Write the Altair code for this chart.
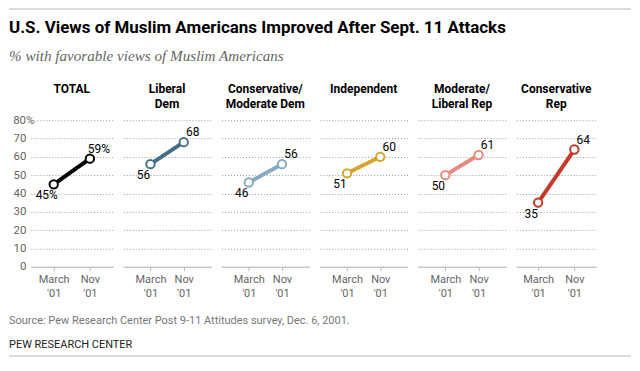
import altair as alt
import pandas as pd

# ---- data ----
groups = ["TOTAL", "Liberal\nDem", "Conservative/\nModerate Dem", "Independent",
          "Moderate/\nLiberal Rep", "Conservative\nRep"]
periods = ["March|'01", "Nov|'01"]
march_vals = [45, 56, 46, 51, 50, 35]
nov_vals = [59, 68, 56, 60, 61, 64]
colors = ["#000000", "#456e8c", "#86a9c4", "#d4a72c", "#e88a7d", "#c5392a"]
y_ticks = [0, 10, 20, 30, 40, 50, 60, 70, 80]

title_text = "U.S. Views of Muslim Americans Improved After Sept. 11 Attacks"
subtitle_text = "% with favorable views of Muslim Americans"
source_text = "Source: Pew Research Center Post 9-11 Attitudes survey, Dec. 6, 2001."
credit_text = "PEW RESEARCH CENTER"

FONT = "Roboto"
widths = [82, 88, 88, 88, 88, 80]
pads = [0.63, 0.82, 0.82, 0.82, 0.82, 0.6]
H = 147
LEFT = -22          # page left edge relative to first panel
RIGHT = 602         # page right edge relative to first panel


def panel(i):
    df = pd.DataFrame({
        "period": periods,
        "value": [march_vals[i], nov_vals[i]],
    })
    suffix = "%" if i == 0 else ""
    df["label"] = [f"{v}{suffix}" for v in df["value"]]
    if i == 0:
        yaxis = alt.Axis(values=y_ticks, title=None, domain=False, ticks=False,
                         labelExpr="datum.value == 80 ? '80%' : datum.label",
                         labelPadding={"condition": {"test": "datum.value == 80", "value": -3}, "value": 5},
                         labelColor="#666666", labelFontSize=11.5, labelFont=FONT,
                         grid=True, gridDash=[1, 2], gridColor="#999999", minExtent=22)
    else:
        yaxis = alt.Axis(values=y_ticks, title=None, domain=False, ticks=False, labels=False,
                         grid=True, gridDash=[1, 2], gridColor="#999999")
    x = alt.X("period:N", sort=periods,
              scale=alt.Scale(type="point", padding=pads[i]),
              axis=alt.Axis(title=None, labelAngle=0, labelExpr="split(datum.label, '|')",
                            labelColor="#666666", labelFontSize=11, labelFont=FONT,
                            labelLineHeight=14, labelPadding=3, tickSize=4,
                            tickColor="#bbbbbb", domainColor="#bbbbbb", grid=False))
    y = alt.Y("value:Q", scale=alt.Scale(domain=[0, 80]), axis=yaxis)
    base = alt.Chart(df)
    line = base.mark_line(strokeWidth=4, color=colors[i]).encode(x=x, y=y)
    pts = base.mark_point(shape="circle", size=70, filled=True, fill="white",
                          stroke=colors[i], strokeWidth=2, opacity=1).encode(x=x, y=y)
    lab1 = base.transform_filter(alt.datum.period == periods[0]).mark_text(
        dx=-7, dy=11, fontSize=12, font=FONT, color="#000000").encode(x=x, y=y, text="label:N")
    lab2 = base.transform_filter(alt.datum.period == periods[1]).mark_text(
        dx=9, dy=-10, fontSize=12, font=FONT, color="#000000").encode(x=x, y=y, text="label:N")
    head = alt.Chart(pd.DataFrame({"h": [groups[i]]})).mark_text(
        lineBreak="\n", fontWeight="bold", fontSize=12, font=FONT, lineHeight=14.5,
        align="center", baseline="alphabetic", color="#000000").encode(
        x=alt.value(widths[i] / 2), y=alt.value(-27), text="h:N")
    layers = [line, pts, lab1, lab2, head]
    if i == 0:
        ann = alt.Chart(pd.DataFrame({"t": [title_text], "s": [subtitle_text],
                                      "src": [source_text], "c": [credit_text]}))
        layers += [
            ann.mark_rule(color="#bbbbbb", strokeWidth=1).encode(
                x=alt.value(LEFT), x2=alt.value(RIGHT), y=alt.value(-111.5)),
            ann.mark_text(align="left", baseline="alphabetic", font=FONT, fontSize=17,
                          fontWeight="bold", color="#000000").encode(
                x=alt.value(LEFT), y=alt.value(-87), text="t:N"),
            ann.mark_text(align="left", baseline="alphabetic", font="Liberation Serif",
                          fontSize=15.2, fontStyle="italic", color="#666666").encode(
                x=alt.value(LEFT), y=alt.value(-59), text="s:N"),
            ann.mark_text(align="left", baseline="middle", font=FONT, fontSize=11,
                          color="#777777").encode(x=alt.value(LEFT), y=alt.value(201), text="src:N"),
            ann.mark_text(align="left", baseline="middle", font=FONT, fontSize=11,
                          color="#222222").encode(x=alt.value(LEFT), y=alt.value(226), text="c:N"),
            ann.mark_rule(color="#bbbbbb", strokeWidth=1).encode(
                x=alt.value(LEFT), x2=alt.value(RIGHT), y=alt.value(236.5)),
        ]
    return alt.layer(*layers).properties(width=widths[i], height=H)


chart = alt.hconcat(*[panel(i) for i in range(6)], spacing=10.6, bounds="flush").configure_view(
    stroke=None).properties(background="white", padding=0)

chart.save("out.html", embed_options={"renderer": "svg", "actions": False})
